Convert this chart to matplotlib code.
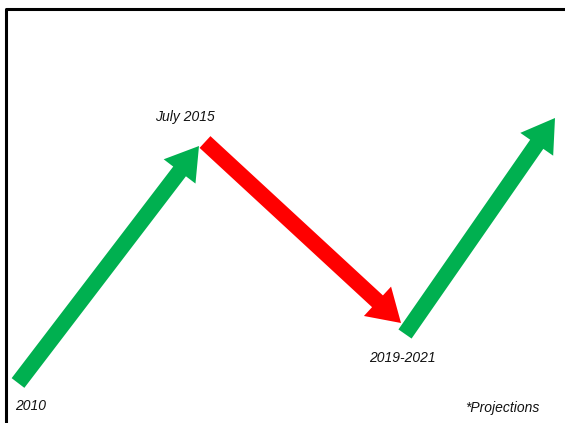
import matplotlib.pyplot as plt

# arrow segments (pixel-like coordinates, y grows downward)
starts = [(18, 383), (205, 142), (405, 334)]
ends = [(199, 146), (401, 323), (555, 118)]
colors = ['#00B050', '#FF0000', '#00B050']

labels = ['July 2015', '2010', '2019-2021', '*Projections']
label_pos = [(185, 117), (15, 406), (369, 358), (465, 408)]
label_ha = ['center', 'left', 'left', 'left']

fig = plt.figure(figsize=(5.65, 4.23), dpi=100)
ax = fig.add_axes([0, 0, 1, 1])
ax.set_xlim(0, 565)
ax.set_ylim(423, 0)
ax.axis('off')

for (x0, y0), (x1, y1), c in zip(starts, ends, colors):
    ax.arrow(x0, y0, x1 - x0, y1 - y0, width=16, head_width=40, head_length=32,
             length_includes_head=True, color=c, linewidth=0)

for t, (x, y), ha in zip(labels, label_pos, label_ha):
    ax.text(x, y, t, ha=ha, va='center', fontsize=10, style='italic',
            family='Liberation Sans', color='#111111')

# frame
ax.plot([6, 6, 565], [423, 9, 9], color='black', linewidth=2.2, solid_capstyle='butt')

fig.savefig('out.png', dpi=100)
